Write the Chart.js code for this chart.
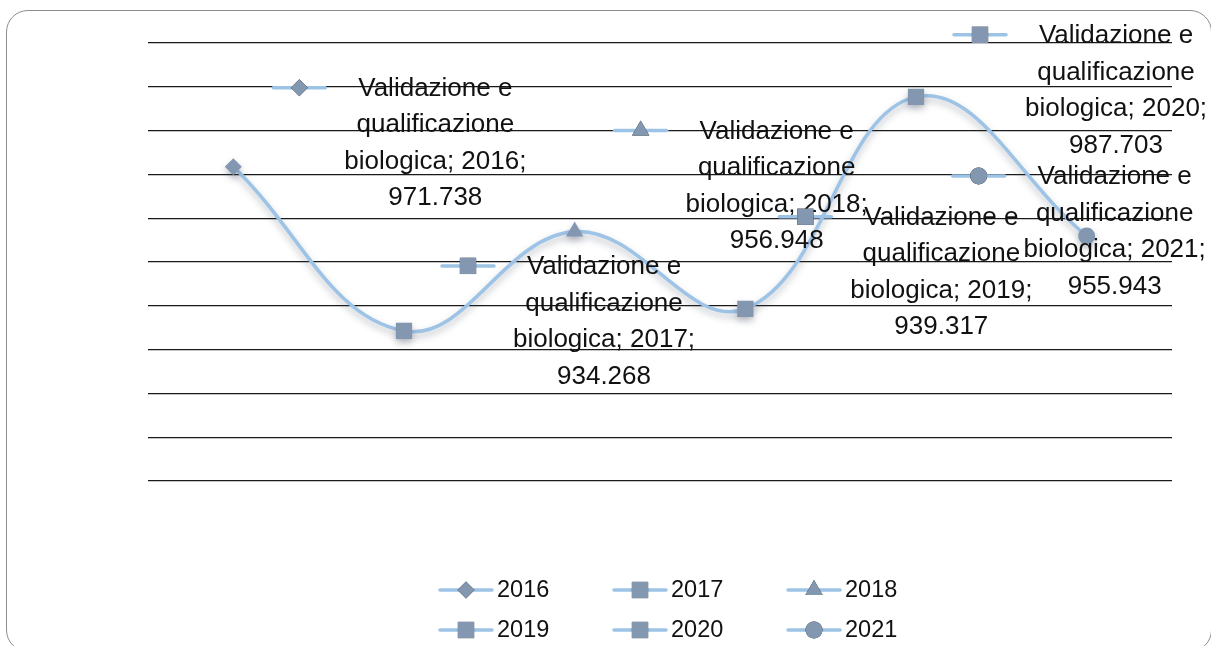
<!DOCTYPE html>
<html lang="it">
<head>
<meta charset="utf-8">
<title>Validazione e qualificazione biologica</title>
<script src="https://cdn.jsdelivr.net/npm/chart.js@4/dist/chart.umd.min.js"></script>
<style>
  html, body { margin: 0; padding: 0; background: #fff; overflow: hidden; }
  #wrap { position: relative; width: 1211px; height: 646px; }
  #frame {
    position: absolute; left: 6px; top: 10px; width: 1204px; height: 640px;
    border: 1.5px solid #8c8c8c; border-radius: 22px; pointer-events: none;
  }
</style>
</head>
<body>
<div id="wrap">
  <canvas id="chart"></canvas>
  <div id="frame"></div>
</div>
<script>
const seriesName = 'Validazione e qualificazione biologica';
const years = ['2016', '2017', '2018', '2019', '2020', '2021'];
const values = [971738, 934268, 956948, 939317, 987703, 955943];
const yMin = 900000;
const yMax = 1000000;
const yStep = 10000;

// marker shape used for each year (point, label key and legend)
const markers = ['rectRot', 'rect', 'triangle', 'rect', 'rect', 'circle'];
// where each data label's key sits, relative to its point
const labelOffsets = [[66, -79], [64, -65], [66, -101], [60, -92], [64, -62], [-108, -60]];

const lineColor = '#9dc3e6';
const markerColor = '#8497b0';
const FONT = '"Liberation Sans", Arial, sans-serif';

function markerRadius(style) {
  if (style === 'rect') return 11.5;
  if (style === 'triangle') return 10;
  return 8.5;
}

function fmt(v) {
  return String(v).replace(/\B(?=(\d{3})+(?!\d))/g, '.');
}

function drawKey(ctx, x, y, style) {
  ctx.save();
  ctx.strokeStyle = lineColor;
  ctx.lineWidth = 3.5;
  ctx.lineCap = 'round';
  ctx.beginPath();
  ctx.moveTo(x - 26, y);
  ctx.lineTo(x + 26, y);
  ctx.stroke();
  Chart.helpers.drawPoint(ctx, {
    pointStyle: style,
    radius: markerRadius(style),
    rotation: 0,
    borderWidth: 0
  }, x, y);
  ctx.fillStyle = markerColor;
  ctx.fill();
  ctx.restore();
}

const shadowPlugin = {
  id: 'lineShadow',
  beforeDatasetDraw(chart) {
    const ctx = chart.ctx;
    ctx.save();
    ctx.shadowColor = 'rgba(60, 70, 90, 0.35)';
    ctx.shadowBlur = 7;
    ctx.shadowOffsetY = 4;
  },
  afterDatasetDraw(chart) {
    chart.ctx.restore();
  }
};

const labelPlugin = {
  id: 'pointLabels',
  afterDatasetsDraw(chart) {
    const ctx = chart.ctx;
    const meta = chart.getDatasetMeta(0);
    meta.data.forEach((pt, i) => {
      const kx = pt.x + labelOffsets[i][0];
      const ky = pt.y + labelOffsets[i][1];
      drawKey(ctx, kx, ky, markers[i]);
      const lines = ['Validazione e', 'qualificazione', 'biologica; ' + years[i] + ';', fmt(values[i])];
      ctx.save();
      ctx.fillStyle = '#111';
      ctx.font = '26px ' + FONT;
      ctx.textAlign = 'center';
      ctx.textBaseline = 'middle';
      lines.forEach((t, j) => ctx.fillText(t, kx + 136, ky + 1 + j * 36.5));
      ctx.restore();
    });
  }
};

const legendPlugin = {
  id: 'yearLegend',
  afterDraw(chart) {
    const ctx = chart.ctx;
    const area = chart.chartArea;
    const colW = 174;
    const left = (area.left + area.right) / 2 - 194;
    years.forEach((y, i) => {
      const col = i % 3;
      const row = Math.floor(i / 3);
      const kx = left + col * colW;
      const ky = area.bottom + 109 + row * 40;
      drawKey(ctx, kx, ky, markers[i]);
      ctx.save();
      ctx.fillStyle = '#111';
      ctx.font = '23.5px ' + FONT;
      ctx.textAlign = 'left';
      ctx.textBaseline = 'middle';
      ctx.fillText(y, kx + 31, ky + 1);
      ctx.restore();
    });
  }
};

new Chart(document.getElementById('chart'), {
  type: 'line',
  data: {
    labels: years,
    datasets: [{
      label: seriesName,
      data: values,
      borderColor: lineColor,
      borderWidth: 3.5,
      tension: 0.4,
      fill: false,
      pointStyle: markers,
      pointRadius: markers.map(markerRadius),
      pointBackgroundColor: markerColor,
      pointBorderWidth: 0,
      pointHoverRadius: markers.map(markerRadius)
    }]
  },
  options: {
    responsive: true,
    maintainAspectRatio: false,
    animation: false,
    layout: {
      padding: { left: 148, right: 39, top: 43, bottom: 165 }
    },
    plugins: {
      legend: { display: false },
      tooltip: { enabled: false },
      title: { display: false }
    },
    scales: {
      x: {
        display: false,
        offset: true
      },
      y: {
        min: yMin,
        max: yMax,
        ticks: { display: false, stepSize: yStep },
        border: { display: false },
        grid: { color: '#1a1a1a', lineWidth: 1.2, drawTicks: false },
        afterFit(scale) { scale.width = 0; }
      }
    }
  },
  plugins: [shadowPlugin, labelPlugin, legendPlugin]
});
</script>
</body>
</html>
